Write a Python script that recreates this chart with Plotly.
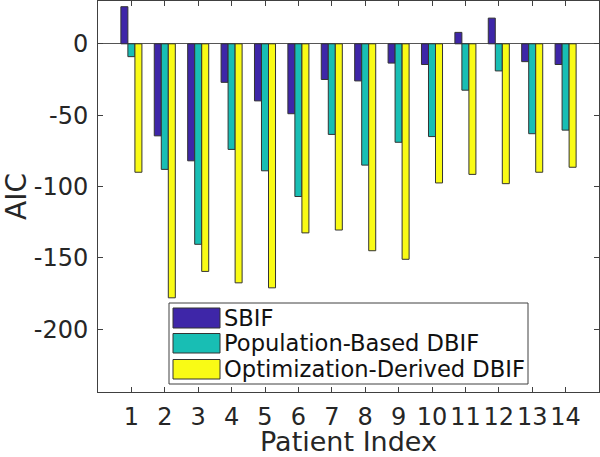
import plotly.graph_objects as go

patients = list(range(1, 15))
tick_labels = [str(p) for p in patients]
sbif = [26, -64.5, -82, -27, -40, -49, -25, -26, -13.5, -14.5, 8, 18, -12.5, -14.5]
pop_dbif = [-9, -88, -140.5, -74, -89, -107, -63.5, -85, -69, -65, -32.5, -19, -63, -60.5]
opt_dbif = [-90, -178, -159.5, -167.5, -171, -132.5, -130.5, -145, -151, -97.5, -91.5, -98, -90, -86.5]
series_names = ["SBIF", "Population-Based DBIF", "Optimization-Derived DBIF"]
series_colors = ["#3E26A8", "#18BEB4", "#F9FB15"]

W, H = 600, 457
ML, MR, MT, MB = 98, 1, 1, 65

fig = go.Figure()
for name, vals, col in zip(series_names, [sbif, pop_dbif, opt_dbif], series_colors):
    fig.add_trace(go.Bar(x=patients, y=vals, name=name, marker_color=col,
                         marker_line_color="#333333", marker_line_width=1,
                         showlegend=False))

axis_font = dict(family="DejaVu Sans", size=24, color="#262626")
fig.update_layout(
    width=W, height=H,
    margin=dict(l=ML, r=MR, t=MT, b=MB, autoexpand=False),
    paper_bgcolor="white", plot_bgcolor="white",
    barmode="group", bargap=0.37, bargroupgap=0.0,
    font=dict(family="DejaVu Sans", color="#262626"),
    xaxis=dict(range=[0, 15], tickmode="array", tickvals=patients, ticktext=tick_labels,
               ticks="inside", ticklen=5, tickcolor="#404040", showline=True,
               linecolor="#404040", linewidth=1, mirror="ticks", showgrid=False,
               zeroline=False, tickfont=axis_font, automargin=False, ticklabelstandoff=3,
               title=dict(text="Patient Index", font=dict(family="DejaVu Sans", size=27, color="#262626"), standoff=4)),
    yaxis=dict(range=[-244, 30], tickmode="array", tickvals=[0, -50, -100, -150, -200],
               ticktext=["0", "-50", "-100", "-150", "-200"],
               ticks="inside", ticklen=5, tickcolor="#404040", showline=True,
               linecolor="#404040", linewidth=1, mirror="ticks", showgrid=False,
               zeroline=True, zerolinecolor="#555555", zerolinewidth=1,
               tickfont=axis_font, ticklabelstandoff=4, automargin=False,
               title=dict(text="AIC", font=dict(family="DejaVu Sans", size=28, color="#262626"), standoff=8)),
)

# custom legend (MATLAB style) in paper coordinates
pw, ph = W - ML - MR, H - MT - MB
def px(x):
    return (x - ML) / pw
def py(y):
    return 1 - (y - MT) / ph

fig.add_shape(type="rect", xref="paper", yref="paper",
              x0=px(169), x1=px(528), y0=py(303), y1=py(384),
              line=dict(color="#404040", width=1), fillcolor="white", layer="above")
rows = [(308, 328), (333.5, 353), (359.5, 379)]
for (ya, yb), name, col in zip(rows, series_names, series_colors):
    fig.add_shape(type="rect", xref="paper", yref="paper",
                  x0=px(173), x1=px(220), y0=py(ya), y1=py(yb),
                  line=dict(color="#333333", width=1), fillcolor=col, layer="above")
    fig.add_annotation(xref="paper", yref="paper", x=px(222), y=py((ya + yb) / 2),
                       text=name, showarrow=False, xanchor="left", yanchor="middle",
                       font=dict(family="DejaVu Sans", size=22.6, color="#111111"))

fig.write_html("out.html", config={"displayModeBar": False},
               post_script="document.body.style.margin='0';document.body.style.overflow='hidden';")
